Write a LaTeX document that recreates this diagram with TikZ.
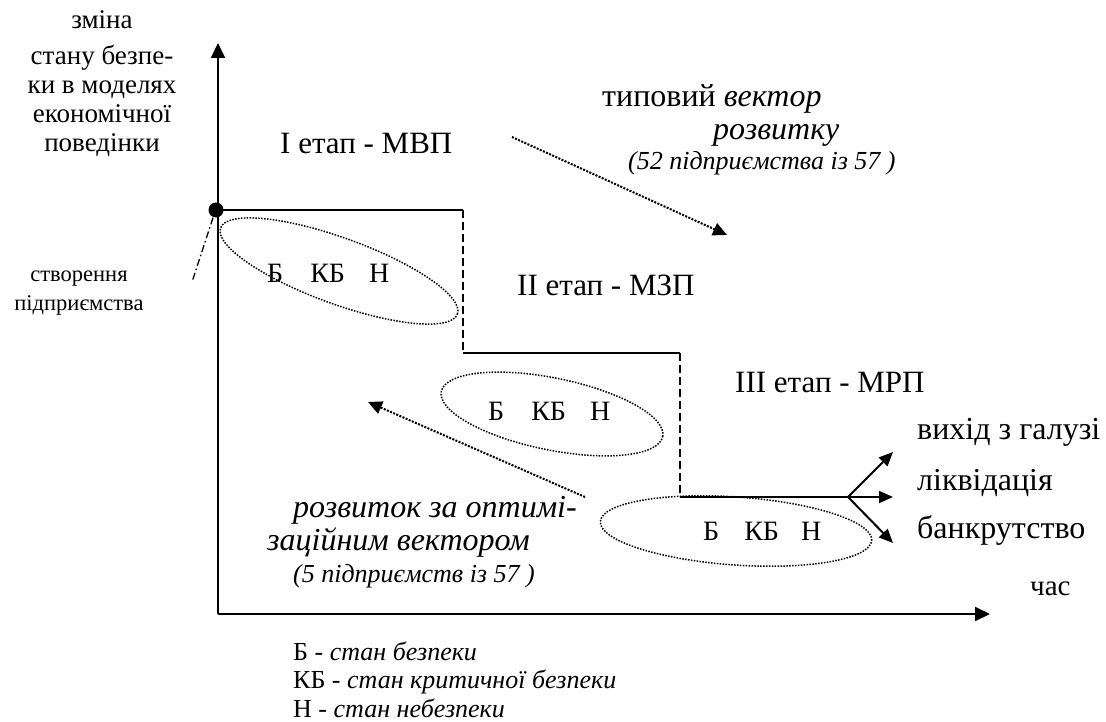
\documentclass[tikz,border=0pt]{standalone}
\usepackage{fontspec}
\setmainfont{Liberation Serif}
\usetikzlibrary{arrows.meta}

\begin{document}
\begin{tikzpicture}[x=1pt,y=-1pt,
  txt/.style={inner sep=0pt, anchor=base west},
  big/.style={font=\fontsize{32}{36}\selectfont},
  stage/.style={font=\fontsize{31}{36}\selectfont},
  mid/.style={font=\fontsize{27}{29}\selectfont},
  small/.style={font=\fontsize{22.5}{29}\selectfont},
  paren/.style={font=\fontsize{26}{29}\selectfont\itshape},
  state/.style={font=\fontsize{28}{30}\selectfont},
  axis/.style={line width=2pt, -{Triangle[length=15pt,width=14pt]}},
  stepline/.style={line width=2pt},
  stepdash/.style={line width=2pt, dash pattern=on 8pt off 4pt},
  dotarrow/.style={line width=2pt, dash pattern=on 2pt off 1.4pt, -{Triangle[length=14pt,width=13pt]}},
  zone/.style={line width=1.5pt, dash pattern=on 1.5pt off 1.4pt},
  exitarrow/.style={line width=2pt, -{Triangle[length=14pt,width=12pt]}},
  pointer/.style={line width=1.3pt, dash pattern=on 7pt off 3pt on 1.5pt off 3pt}
]
\useasboundingbox (0,0) rectangle (1106,722);

% axes
\coordinate (o) at (218,614);
\coordinate (ytip) at (218,43);
\coordinate (xtip) at (990,614);
\draw[axis] (o) -- (ytip);
\draw[axis] (o) -- (xtip);

% axis labels (anchored at the baseline of the last line)
\node[mid, inner sep=0pt, anchor=base, align=center] (ylab) at (102,152)
  {зміна\\[7pt]стану безпе-\\ки в моделях\\економічної\\поведінки};
\node[txt, font=\fontsize{29}{32}\selectfont] (xlab) at (1030,595) {час};

% start of the enterprise
\node[circle, fill=black, inner sep=0pt, minimum size=15pt] (start) at (216,210) {};
\coordinate (ptr) at (192,282);
\draw[pointer] (start.south) ++(-3pt,0pt) -- (ptr);
\node[small, inner sep=0pt, anchor=base, align=center] (startlab) at (79,310)
  {створення\\підприємства};

% staircase of the three stages
\coordinate (s1) at (463,210);
\coordinate (s2) at (463,353);
\coordinate (s3) at (680,353);
\coordinate (s4) at (680,497);
\coordinate (fork) at (848,497);
\draw[stepline] (start.center) -- (s1);
\draw[stepdash] (s1) -- (s2);
\draw[stepline] (s2) -- (s3);
\draw[stepdash] (s3) -- (s4);
\draw[stepline] (s4) -- (fork);

% stage titles
\node[txt, stage] (st1) at (280,154) {І етап - МВП};
\node[txt, stage] (st2) at (517,295) {ІІ етап - МЗП};
\node[txt, stage] (st3) at (735,392) {ІІІ етап - МРП};

% zones of security states
\draw[zone, rotate around={-20:(339,271)}] (339,271) ellipse [x radius=126pt, y radius=33pt];
\draw[zone, rotate around={-11.5:(552,414)}] (552,414) ellipse [x radius=113pt, y radius=36pt];
\draw[zone, rotate around={-4:(736,531)}] (736,531) ellipse [x radius=136pt, y radius=34pt];
\node[txt, state] (z1) at (267,283) {Б\hspace{27pt}КБ\hspace{24pt}Н};
\node[txt, state] (z2) at (488,420) {Б\hspace{27pt}КБ\hspace{24pt}Н};
\node[txt, state] (z3) at (703,540) {Б\hspace{25pt}КБ\hspace{22pt}Н};

% exits from the industry
\coordinate (ex1) at (893,452);
\coordinate (ex2) at (893,497);
\coordinate (ex3) at (893,543);
\draw[exitarrow] (fork) -- (ex1);
\draw[exitarrow] (fork) -- (ex2);
\draw[exitarrow] (fork) -- (ex3);
\node[txt, big] (out1) at (917,439) {вихід з галузі};
\node[txt, big] (out2) at (917,490) {ліквідація};
\node[txt, big] (out3) at (917,538) {банкрутство};

% typical development vector
\coordinate (tv0) at (512,137);
\coordinate (tv1) at (727,235);
\draw[dotarrow] (tv0) -- (tv1);
\node[txt, big] (tva) at (602,107) {типовий \textit{вектор}};
\node[txt, big] (tvb) at (713,140) {\textit{розвитку}};
\node[txt, paren] (tvc) at (628,170) {(52 підприємства із 57 )};

% optimisation vector
\coordinate (ov0) at (585,497);
\coordinate (ov1) at (368,402);
\draw[dotarrow] (ov0) -- (ov1);
\node[txt, big] (ova) at (293,517) {\textit{розвиток за оптимі-}};
\node[txt, big] (ovb) at (267,550) {\textit{заційним вектором}};
\node[txt, paren] (ovc) at (293,582) {(5 підприємств із 57 )};

% legend (anchored at the baseline of the last line)
\node[txt, font=\fontsize{26}{28.5}\selectfont, align=left] (legend) at (293,717)
  {Б - \textit{стан безпеки}\\КБ - \textit{стан критичної безпеки}\\Н - \textit{стан небезпеки}};
\end{tikzpicture}
\end{document}
